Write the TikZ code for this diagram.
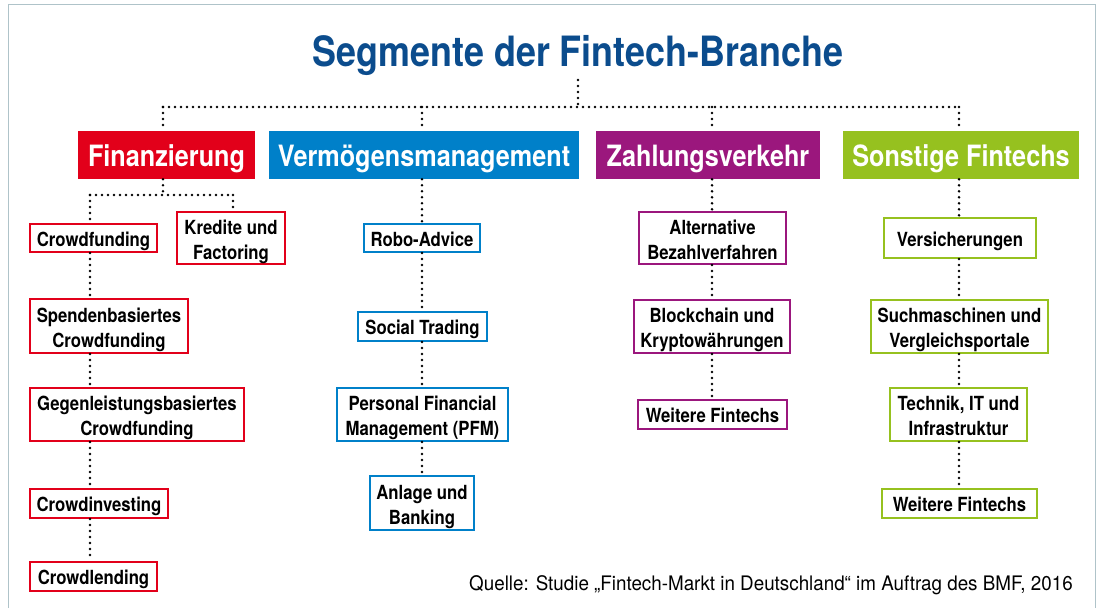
\documentclass[tikz,border=0pt]{standalone}
\usepackage{fontspec}
\setmainfont{TeX Gyre Heros}[FakeStretch=0.86]
\newfontfamily\notefamily{TeX Gyre Heros}[FakeStretch=0.94]
\usepackage{tikz}

\definecolor{finred}{HTML}{E2001A}
\definecolor{vermblue}{HTML}{0080C9}
\definecolor{zahlpurple}{HTML}{9B177D}
\definecolor{sonstgreen}{HTML}{96C11F}
\definecolor{titleblue}{HTML}{0B4C8D}
\definecolor{framegrey}{HTML}{AFC3C9}

\newcommand\headfont{\fontsize{31.3pt}{36pt}\selectfont\bfseries}
\newcommand\catfont{\fontsize{22pt}{26pt}\selectfont\bfseries}
\newcommand\boxfont{\fontsize{14.6pt}{18.75pt}\selectfont\bfseries}
\newcommand\notefont{\notefamily\fontsize{15pt}{18pt}\selectfont}

\begin{document}
\begin{tikzpicture}[x=0.75pt,y=-0.75pt,
	dots/.style={line width=2.2pt,line cap=round,dash pattern=on 0pt off 4.5pt},
	cat/.style={fill=#1,text=white,inner sep=0,font=\catfont,minimum height=36pt,text height=18pt,text depth=1.5pt},
	sub/.style={draw=#1,fill=white,line width=1.5pt,inner sep=0,align=center,font=\boxfont,text height=13pt,text depth=1pt},
	twolines/.style={text height=33pt,text depth=1.5pt}]
	\useasboundingbox (0,0) rectangle (1099,608);
	\draw[framegrey,line width=1.2pt] (8.5,608) -- (8.5,4.5) -- (1095.5,4.5) -- (1095.5,608);
	\node[anchor=base,text=titleblue,font=\headfont,inner sep=0] (0) at (578,66) {Segmente der Fintech-Branche};
	\node[cat=finred,minimum width=132.75pt] (1) at (166.5,155) {Finanzierung};
	\node[cat=vermblue,minimum width=232.5pt] (2) at (424,155) {Vermögensmanagement};
	\node[cat=zahlpurple,minimum width=168pt] (3) at (708,155) {Zahlungsverkehr};
	\node[cat=sonstgreen,minimum width=177pt] (4) at (961,155) {Sonstige Fintechs};
	\node[sub=finred,minimum width=95.25pt,minimum height=21pt] (11) at (93.5,238) {Crowdfunding};
	\node[sub=finred,twolines,minimum width=81pt,minimum height=39pt] (12) at (231,238) {Kredite und\\Factoring};
	\node[sub=finred,twolines,minimum width=118.5pt,minimum height=40.5pt] (13) at (109,326) {Spendenbasiertes\\Crowdfunding};
	\node[sub=finred,twolines,minimum width=160.5pt,minimum height=39.75pt] (14) at (137,414.5) {Gegenleistungsbasiertes\\Crowdfunding};
	\node[sub=finred,minimum width=103.5pt,minimum height=21.75pt] (15) at (99,503.5) {Crowdinvesting};
	\node[sub=finred,minimum width=95.25pt,minimum height=21.75pt] (16) at (93.5,576.5) {Crowdlending};
	\node[sub=vermblue,minimum width=87pt,minimum height=21pt] (21) at (422,238) {Robo-Advice};
	\node[sub=vermblue,minimum width=96.75pt,minimum height=21.75pt] (22) at (422.5,326.5) {Social Trading};
	\node[sub=vermblue,twolines,minimum width=128.25pt,minimum height=39.75pt] (23) at (422.5,414.5) {Personal Financial\\Management (PFM)};
	\node[sub=vermblue,twolines,minimum width=78pt,minimum height=40.5pt] (24) at (422,503) {Anlage und\\Banking};
	\node[sub=zahlpurple,twolines,minimum width=110.25pt,minimum height=39pt] (31) at (712.5,238) {Alternative\\Bezahlverfahren};
	\node[sub=zahlpurple,twolines,minimum width=117pt,minimum height=39.75pt] (32) at (712,326.5) {Blockchain und\\Kryptowährungen};
	\node[sub=zahlpurple,minimum width=111.75pt,minimum height=21.75pt] (33) at (712.5,414.5) {Weitere Fintechs};
	\node[sub=sonstgreen,minimum width=114pt,minimum height=30pt] (41) at (960,238) {Versicherungen};
	\node[sub=sonstgreen,twolines,minimum width=132.75pt,minimum height=39.75pt] (42) at (959.5,326.5) {Suchmaschinen und\\Vergleichsportale};
	\node[sub=sonstgreen,twolines,minimum width=102.75pt,minimum height=39.75pt] (43) at (958.5,414.5) {Technik, IT und\\Infrastruktur};
	\node[sub=sonstgreen,minimum width=116.25pt,minimum height=21.75pt] (44) at (959.5,503.5) {Weitere Fintechs};
	\node[anchor=base east,font=\notefont,inner sep=0] (q) at (1073,590) {Quelle: Studie „Fintech-Markt in Deutschland“ im Auftrag des BMF, 2016};
	\coordinate (t) at (578,80);
	\coordinate (h1) at (163,107);
	\coordinate (h2) at (422,107);
	\coordinate (h3) at (712,107);
	\coordinate (h4) at (959,107);
	\coordinate (f0) at (163,195);
	\coordinate (f1) at (90,195);
	\coordinate (f2) at (233,195);
	\draw[dots] (t) -- (t |- h1);
	\draw[dots] (h1) -- (h4);
	\draw[dots] (h1) -- (1.north -| h1);
	\draw[dots] (h2) -- (2.north -| h2);
	\draw[dots] (h3) -- (3.north -| h3);
	\draw[dots] (h4) -- (4.north -| h4);
	\draw[dots] (1.south -| f0) -- (f0);
	\draw[dots] (f1) -- (f2);
	\draw[dots] (f1) -- (11.north -| f1);
	\draw[dots] (f2) -- (12.north -| f2);
	\draw[dots] (11.south -| f1) -- (13.north -| f1);
	\draw[dots] (13.south -| f1) -- (14.north -| f1);
	\draw[dots] (14.south -| f1) -- (15.north -| f1);
	\draw[dots] (15.south -| f1) -- (16.north -| f1);
	\draw[dots] (2.south -| h2) -- (21.north -| h2);
	\draw[dots] (21.south -| h2) -- (22.north -| h2);
	\draw[dots] (22.south -| h2) -- (23.north -| h2);
	\draw[dots] (23.south -| h2) -- (24.north -| h2);
	\draw[dots] (3.south -| h3) -- (31.north -| h3);
	\draw[dots] (31.south -| h3) -- (32.north -| h3);
	\draw[dots] (32.south -| h3) -- (33.north -| h3);
	\draw[dots] (4.south -| h4) -- (41.north -| h4);
	\draw[dots] (41.south -| h4) -- (42.north -| h4);
	\draw[dots] (42.south -| h4) -- (43.north -| h4);
	\draw[dots] (43.south -| h4) -- (44.north -| h4);
\end{tikzpicture}
\end{document}
